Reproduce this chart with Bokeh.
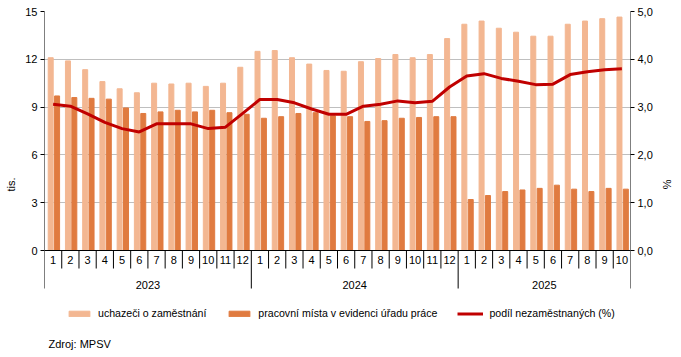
from bokeh.plotting import figure
from bokeh.models import (ColumnDataSource, Range1d, LinearAxis, FixedTicker,
                          Legend, LegendItem)
from bokeh.core.properties import value
from bokeh.embed import file_html
from bokeh.resources import INLINE

years = ["2023"] * 12 + ["2024"] * 12 + ["2025"] * 10
months = [str(m) for m in range(1, 13)] * 2 + [str(m) for m in range(1, 11)]

uchazeci = [12.1, 11.9, 11.35, 10.6, 10.15, 9.9, 10.5, 10.45, 10.5, 10.3, 10.5, 11.5,
            12.5, 12.55, 12.1, 11.7, 11.3, 11.25, 11.85, 12.05, 12.3, 12.1, 12.3, 13.3,
            14.2, 14.4, 13.95, 13.7, 13.45, 13.45, 14.2, 14.4, 14.55, 14.65]
mista = [9.7, 9.6, 9.55, 9.5, 8.95, 8.6, 8.7, 8.8, 8.7, 8.8, 8.65, 8.55,
         8.3, 8.4, 8.6, 8.65, 8.45, 8.4, 8.1, 8.15, 8.3, 8.35, 8.4, 8.4,
         3.2, 3.45, 3.7, 3.8, 3.9, 4.1, 3.85, 3.7, 3.9, 3.85]
podil = [3.06, 3.02, 2.86, 2.68, 2.55, 2.48, 2.65, 2.65, 2.65, 2.55, 2.58, 2.87,
         3.16, 3.16, 3.09, 2.96, 2.85, 2.85, 3.02, 3.06, 3.13, 3.09, 3.12, 3.42,
         3.65, 3.70, 3.60, 3.54, 3.47, 3.48, 3.68, 3.74, 3.78, 3.80]

left_ticks = [0, 3, 6, 9, 12, 15]
right_ticks = [0, 1, 2, 3, 4, 5]
right_labels = ["0,0", "1,0", "2,0", "3,0", "4,0", "5,0"]
source_note = "Zdroj: MPSV"

C_LIGHT = "#F3B792"
C_DARK = "#E07B40"
C_RED = "#C00000"
FONT = "Liberation Sans"

n = len(months)
W, H = 681, 357
FL, FR, FT = 44, 630, 11          # frame edges in page pixels
PX = (250 - FT) / 15.0            # pixels per thousand
y_bottom = -(H - 250) / PX        # frame reaches to the bottom of the figure
y_axis_end = -38 / PX
y_month_sep = -18 / PX
y_month_txt = -9 / PX
y_year_txt = -34 / PX
y_note = -93 / PX
x_px = (FR - FL) / n

xc = [i + 0.5 for i in range(n)]
src = ColumnDataSource(dict(x=xc, xl=[x - 0.14 for x in xc], xd=[x + 0.23 for x in xc],
                            u=uchazeci, m=mista, p=podil, month=months,
                            ytxt=[y_month_txt] * n))

p = figure(width=W, height=H, output_backend="svg", toolbar_location=None,
           x_range=Range1d(0, n), y_range=Range1d(y_bottom, 15),
           min_border_left=FL, min_border_right=W - FR, min_border_top=FT,
           min_border_bottom=0)
p.outline_line_color = None
p.xaxis.visible = False
p.xgrid.visible = False
p.ygrid.ticker = FixedTicker(ticks=left_ticks[1:])
p.ygrid.grid_line_color = "#BFBFBF"

p.extra_y_ranges = {"pct": Range1d(y_bottom / 3, 5)}

ya = p.yaxis[0]
ya.ticker = FixedTicker(ticks=left_ticks)
ya.axis_label = "tis."

ra = LinearAxis(y_range_name="pct", ticker=FixedTicker(ticks=right_ticks),
                major_label_overrides={t: l for t, l in zip(right_ticks, right_labels)},
                axis_label="%")
p.add_layout(ra, "right")

for ax in [ya, ra]:
    ax.axis_line_color = None
    ax.major_tick_line_color = "black"
    ax.major_tick_in = 0
    ax.major_tick_out = 4
    ax.minor_tick_line_color = None
    ax.major_label_standoff = 3
    ax.axis_label_standoff = 5
    ax.major_label_text_font = FONT
    ax.major_label_text_font_size = "11px"
    ax.major_label_text_color = "black"
    ax.axis_label_text_font = FONT
    ax.axis_label_text_font_size = "11px"
    ax.axis_label_text_font_style = "normal"
    ax.axis_label_text_color = "black"

r1 = p.vbar(x="xl", top="u", width=0.29, source=src, color=C_LIGHT)
r2 = p.vbar(x="xd", top="m", width=0.29, source=src, color=C_DARK)

# zero line and category axis drawn inside the frame
p.segment(x0=[0], x1=[n], y0=[0], y1=[0], line_color="black", line_width=1)
year_bounds = [i for i in range(n + 1) if i == 0 or i == n or years[i] != years[i - 1]]
month_bounds = [i for i in range(n + 1) if i not in year_bounds]
p.segment(x0=month_bounds, x1=month_bounds, y0=[0] * len(month_bounds),
          y1=[y_month_sep] * len(month_bounds), line_color="black", line_width=1)
p.segment(x0=year_bounds, x1=year_bounds, y0=[0] * len(year_bounds),
          y1=[y_axis_end] * len(year_bounds), line_color="black", line_width=1)
p.segment(x0=[0, n], x1=[0, n], y0=[0, 0], y1=[15, 15], line_color="black", line_width=1)

r3 = p.line(x="x", y="p", source=src, y_range_name="pct", line_color=C_RED, line_width=3)

p.text(x="x", y="ytxt", text="month", source=src, text_align="center",
       text_baseline="middle", text_font=value(FONT), text_font_size="11px",
       text_color="black")
uy = []
for y in years:
    if y not in uy:
        uy.append(y)
ycent = [(years.index(y) + len(years) - years[::-1].index(y)) / 2 for y in uy]
p.text(x=ycent, y=[y_year_txt] * len(uy), text=uy, text_align="center",
       text_baseline="middle", text_font=value(FONT), text_font_size="11px",
       text_color="black")
p.text(x=[4 / x_px], y=[y_note], text=[source_note], text_align="left",
       text_baseline="middle", text_font=value(FONT), text_font_size="11px",
       text_color="black")

legend = Legend(items=[LegendItem(label="uchazeči o zaměstnání", renderers=[r1]),
                       LegendItem(label="pracovní místa v evidenci úřadu práce", renderers=[r2]),
                       LegendItem(label="podíl nezaměstnaných (%)", renderers=[r3])],
                orientation="horizontal", location=(22, 38),
                glyph_width=26, glyph_height=7, label_height=12, label_standoff=6,
                spacing=20, padding=0, margin=0, border_line_color=None,
                background_fill_alpha=0,
                label_text_font=FONT, label_text_font_size="10.6px", label_text_color="black")
p.add_layout(legend)

open("out.html", "w").write(file_html(p, INLINE))
